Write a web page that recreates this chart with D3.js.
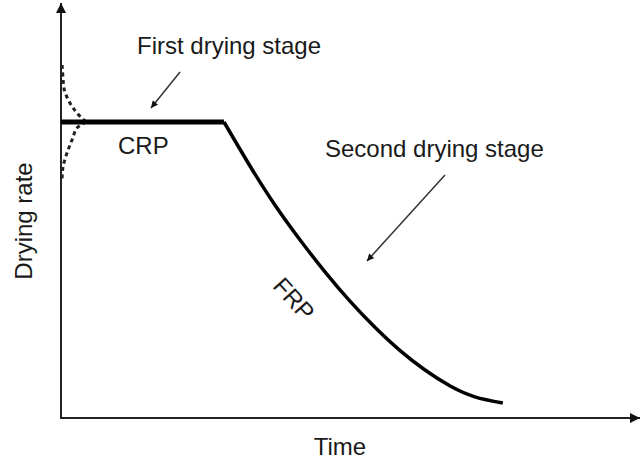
<!DOCTYPE html>
<html>
<head>
<meta charset="utf-8">
<script src="https://cdn.jsdelivr.net/npm/d3@7"></script>
<style>
  html, body { margin: 0; padding: 0; background: #fff; }
  svg { display: block; }
  text { font-family: "Liberation Sans", Arial, sans-serif; fill: #1a1a1a; }
</style>
</head>
<body>
<svg id="chart" width="640" height="463"></svg>
<script>
// ---- data (arbitrary units: time 0..100, drying rate 0..100) ----
const plateauTime = [0, 29.1];
const plateauRate = [74, 74];

const frpTime = [29.1, 33.75, 38.2, 42.7, 47.1, 51.6, 56.1, 60.5, 65.0, 69.5, 73.9, 78.9];
const frpRate = [74, 63, 53.25, 44.5, 36.6, 29.2, 22.6, 16.9, 12, 8, 5.3, 3.75];

const warmUpTime = [0.2, 0.36, 0.6, 1.6, 2.86, 4.5];
const warmUpRate = [88.25, 85, 82, 78.75, 76.25, 74];

const coolDownTime = [4.5, 2.86, 1.96, 1.07, 0.36, 0.18];
const coolDownRate = [74, 72.5, 69.5, 66.25, 62.75, 59.5];

const labels = {
  x: "Time",
  y: "Drying rate",
  crp: "CRP",
  frp: "FRP",
  first: "First drying stage",
  second: "Second drying stage"
};

// ---- layout ----
const svg = d3.select("#chart");
const x = d3.scaleLinear().domain([0, 100]).range([61, 621]);
const y = d3.scaleLinear().domain([0, 100]).range([418, 18]);

const defs = svg.append("defs");
defs.append("marker")
  .attr("id", "axisHead").attr("viewBox", "0 0 10 10")
  .attr("refX", 10).attr("refY", 5)
  .attr("markerWidth", 10).attr("markerHeight", 10)
  .attr("markerUnits", "userSpaceOnUse")
  .attr("orient", "auto")
  .append("path").attr("d", "M0,0 L10,5 L0,10 Z").attr("fill", "#111");
defs.append("marker")
  .attr("id", "smallHead").attr("viewBox", "0 0 10 10")
  .attr("refX", 10).attr("refY", 5)
  .attr("markerWidth", 8).attr("markerHeight", 7)
  .attr("markerUnits", "userSpaceOnUse")
  .attr("orient", "auto")
  .append("path").attr("d", "M0,0 L10,5 L0,10 Z").attr("fill", "#111");

// axes
svg.append("line")
  .attr("x1", x(0)).attr("y1", y(0)).attr("x2", x(0)).attr("y2", 3)
  .attr("stroke", "#222").attr("stroke-width", 2)
  .attr("marker-end", "url(#axisHead)");
svg.append("line")
  .attr("x1", x(0) - 1).attr("y1", y(0)).attr("x2", 640).attr("y2", y(0))
  .attr("stroke", "#222").attr("stroke-width", 2)
  .attr("marker-end", "url(#axisHead)");

const line = d3.line().x(d => x(d[0])).y(d => y(d[1]));
const curve = d3.line().x(d => x(d[0])).y(d => y(d[1])).curve(d3.curveCatmullRom);
const smooth = d3.line().x(d => x(d[0])).y(d => y(d[1])).curve(d3.curveNatural);

// dashed warm-up / cool-down curves
svg.append("path")
  .attr("d", curve(d3.zip(warmUpTime, warmUpRate)))
  .attr("fill", "none").attr("stroke", "#222").attr("stroke-width", 3)
  .attr("stroke-dasharray", "4,3.5");
svg.append("path")
  .attr("d", curve(d3.zip(coolDownTime, coolDownRate)))
  .attr("fill", "none").attr("stroke", "#222").attr("stroke-width", 3)
  .attr("stroke-dasharray", "4,3.5");

// constant-rate period
svg.append("path")
  .attr("d", line(d3.zip(plateauTime, plateauRate)))
  .attr("fill", "none").attr("stroke", "#000").attr("stroke-width", 5);

// falling-rate period
svg.append("path")
  .attr("d", smooth(d3.zip(frpTime, frpRate)))
  .attr("fill", "none").attr("stroke", "#000").attr("stroke-width", 3.5);

// annotation arrows
svg.append("line")
  .attr("x1", 180).attr("y1", 72).attr("x2", 151).attr("y2", 108)
  .attr("stroke", "#333").attr("stroke-width", 1.5)
  .attr("marker-end", "url(#smallHead)");
svg.append("line")
  .attr("x1", 445).attr("y1", 175).attr("x2", 367).attr("y2", 261)
  .attr("stroke", "#333").attr("stroke-width", 1.5)
  .attr("marker-end", "url(#smallHead)");

// texts
svg.append("text").attr("x", 137).attr("y", 54).attr("font-size", 24).text(labels.first);
svg.append("text").attr("x", 325).attr("y", 157).attr("font-size", 24).text(labels.second);
svg.append("text").attr("x", 118).attr("y", 154).attr("font-size", 24).text(labels.crp);
svg.append("text")
  .attr("transform", "translate(294,299) rotate(48)")
  .attr("text-anchor", "middle").attr("dy", "0.35em")
  .attr("font-size", 24).text(labels.frp);
svg.append("text").attr("x", 340).attr("y", 455).attr("text-anchor", "middle")
  .attr("font-size", 24).text(labels.x);
svg.append("text")
  .attr("transform", "translate(32,221) rotate(-90)")
  .attr("text-anchor", "middle")
  .attr("font-size", 24).text(labels.y);
</script>
</body>
</html>
